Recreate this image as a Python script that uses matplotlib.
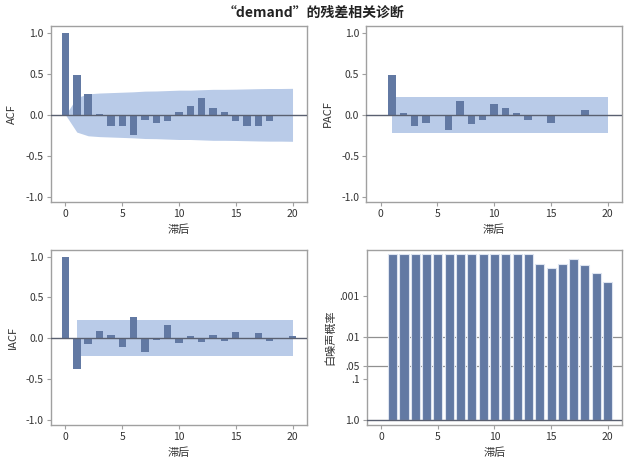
import numpy as np
import matplotlib
matplotlib.use('Agg')
import matplotlib.pyplot as plt

plt.rcParams['font.family'] = ['Noto Sans CJK SC', 'DejaVu Sans']

lags = np.arange(0, 21)

acf = [1.0, 0.485, 0.255, 0.005, -0.13, -0.14, -0.25, -0.06, -0.097, -0.08, 0.04,
       0.11, 0.20, 0.077, 0.04, -0.08, -0.14, -0.14, -0.08, -0.005, -0.02]
acf_band = [0.0, 0.21, 0.255, 0.265, 0.27, 0.275, 0.28, 0.288, 0.29, 0.295, 0.30,
            0.30, 0.305, 0.31, 0.31, 0.312, 0.315, 0.318, 0.32, 0.32, 0.322]

pacf_lags = np.arange(1, 21)
pacf = [0.485, 0.024, -0.14, -0.105, 0.0, -0.186, 0.174, -0.117, -0.069, 0.133,
        0.089, 0.024, -0.057, -0.02, -0.105, -0.003, -0.02, 0.053, -0.01, -0.02]
pacf_band = 0.22

iacf = [1.0, -0.38, -0.068, 0.092, 0.036, -0.108, 0.26, -0.168, -0.024, 0.168, -0.06,
        0.024, -0.048, 0.036, -0.036, 0.072, -0.008, 0.06, -0.036, 0.002, 0.024]
iacf_band = 0.22

wn_lags = np.arange(1, 21)
wn_prob = [1e-4] * 13 + [1.7e-4, 2.2e-4, 1.7e-4, 1.35e-4, 1.8e-4, 2.9e-4, 4.6e-4]

bar_col = '#6279A3'
band_col = '#B9CBE8'
frame_col = '#A0A0A0'
text_col = '#333333'

W, H = 627, 469
fig = plt.figure(figsize=(W / 100, H / 100), dpi=100)


def make_ax(l, r, t, b):
    ax = fig.add_axes([l / W, 1 - b / H, (r - l) / W, (b - t) / H])
    for s in ax.spines.values():
        s.set_color(frame_col)
        s.set_linewidth(1.0)
    ax.tick_params(colors=frame_col, labelcolor=text_col, labelsize=7.5,
                   length=3, width=0.8, pad=2)
    ax.set_xlim(-1.3, 21.25)
    ax.set_xticks([0, 5, 10, 15, 20])
    ax.set_xlabel('滞后', fontsize=8, color=text_col, labelpad=4)
    return ax


def corr_panel(ax, ylabel):
    ax.set_ylim(-1.06, 1.08)
    ax.set_yticks([-1, -0.5, 0, 0.5, 1])
    ax.set_yticklabels(['-1.0', '-0.5', '0.0', '0.5', '1.0'])
    ax.axhline(0, color='#5A6070', lw=1.0, zorder=3)
    ax.set_ylabel(ylabel, fontsize=8, color=text_col, labelpad=6)


# ACF
ax1 = make_ax(50.7, 306.7, 26, 202)
corr_panel(ax1, 'ACF')
ax1.fill_between(lags, -np.array(acf_band), acf_band, color=band_col, lw=0, zorder=1)
ax1.bar(lags, acf, width=0.65, color=bar_col, zorder=2)

# PACF
ax2 = make_ax(366, 621.7, 26, 202)
corr_panel(ax2, 'PACF')
ax2.fill_between(pacf_lags, -pacf_band, pacf_band, color=band_col, lw=0, zorder=1)
ax2.bar(pacf_lags, pacf, width=0.65, color=bar_col, zorder=2)

# IACF
ax3 = make_ax(50.7, 306.7, 250, 425)
corr_panel(ax3, 'IACF')
ax3.fill_between(pacf_lags, -iacf_band, iacf_band, color=band_col, lw=0, zorder=1)
ax3.bar(lags, iacf, width=0.65, color=bar_col, zorder=2)

# White noise probabilities (log scale, inverted)
ax4 = make_ax(366.7, 621.7, 250, 425)
ax4.set_yscale('function', functions=(lambda p: np.log10(np.clip(p, 1e-12, None)),
                                      lambda v: 10.0 ** v))
ax4.set_ylim(1.32, 8.0e-5)
ax4.set_yticks([1.0, 0.1, 0.05, 0.01, 0.001])
ax4.set_yticklabels(['1.0', '.1', '.05', '.01', '.001'])
ax4.minorticks_off()
for p in [0.05, 0.01]:
    ax4.axhline(p, color='#909090', lw=0.9, zorder=1)
ax4.axhline(1.0, color='#5A6070', lw=1.0, zorder=3)
ax4.bar(wn_lags, np.array(wn_prob) - 1.0, bottom=1.0, width=0.8,
        color=bar_col, edgecolor='#DDE4F0', linewidth=0.8, zorder=2)
ax4.set_ylabel('白噪声概率', fontsize=8, color=text_col, labelpad=3)

fig.text(0.5, 1 - 13 / H, '“demand”的残差相关诊断', ha='center', va='center',
         fontsize=10, fontweight='bold', color='#222222')

fig.savefig('out.png', dpi=100)
